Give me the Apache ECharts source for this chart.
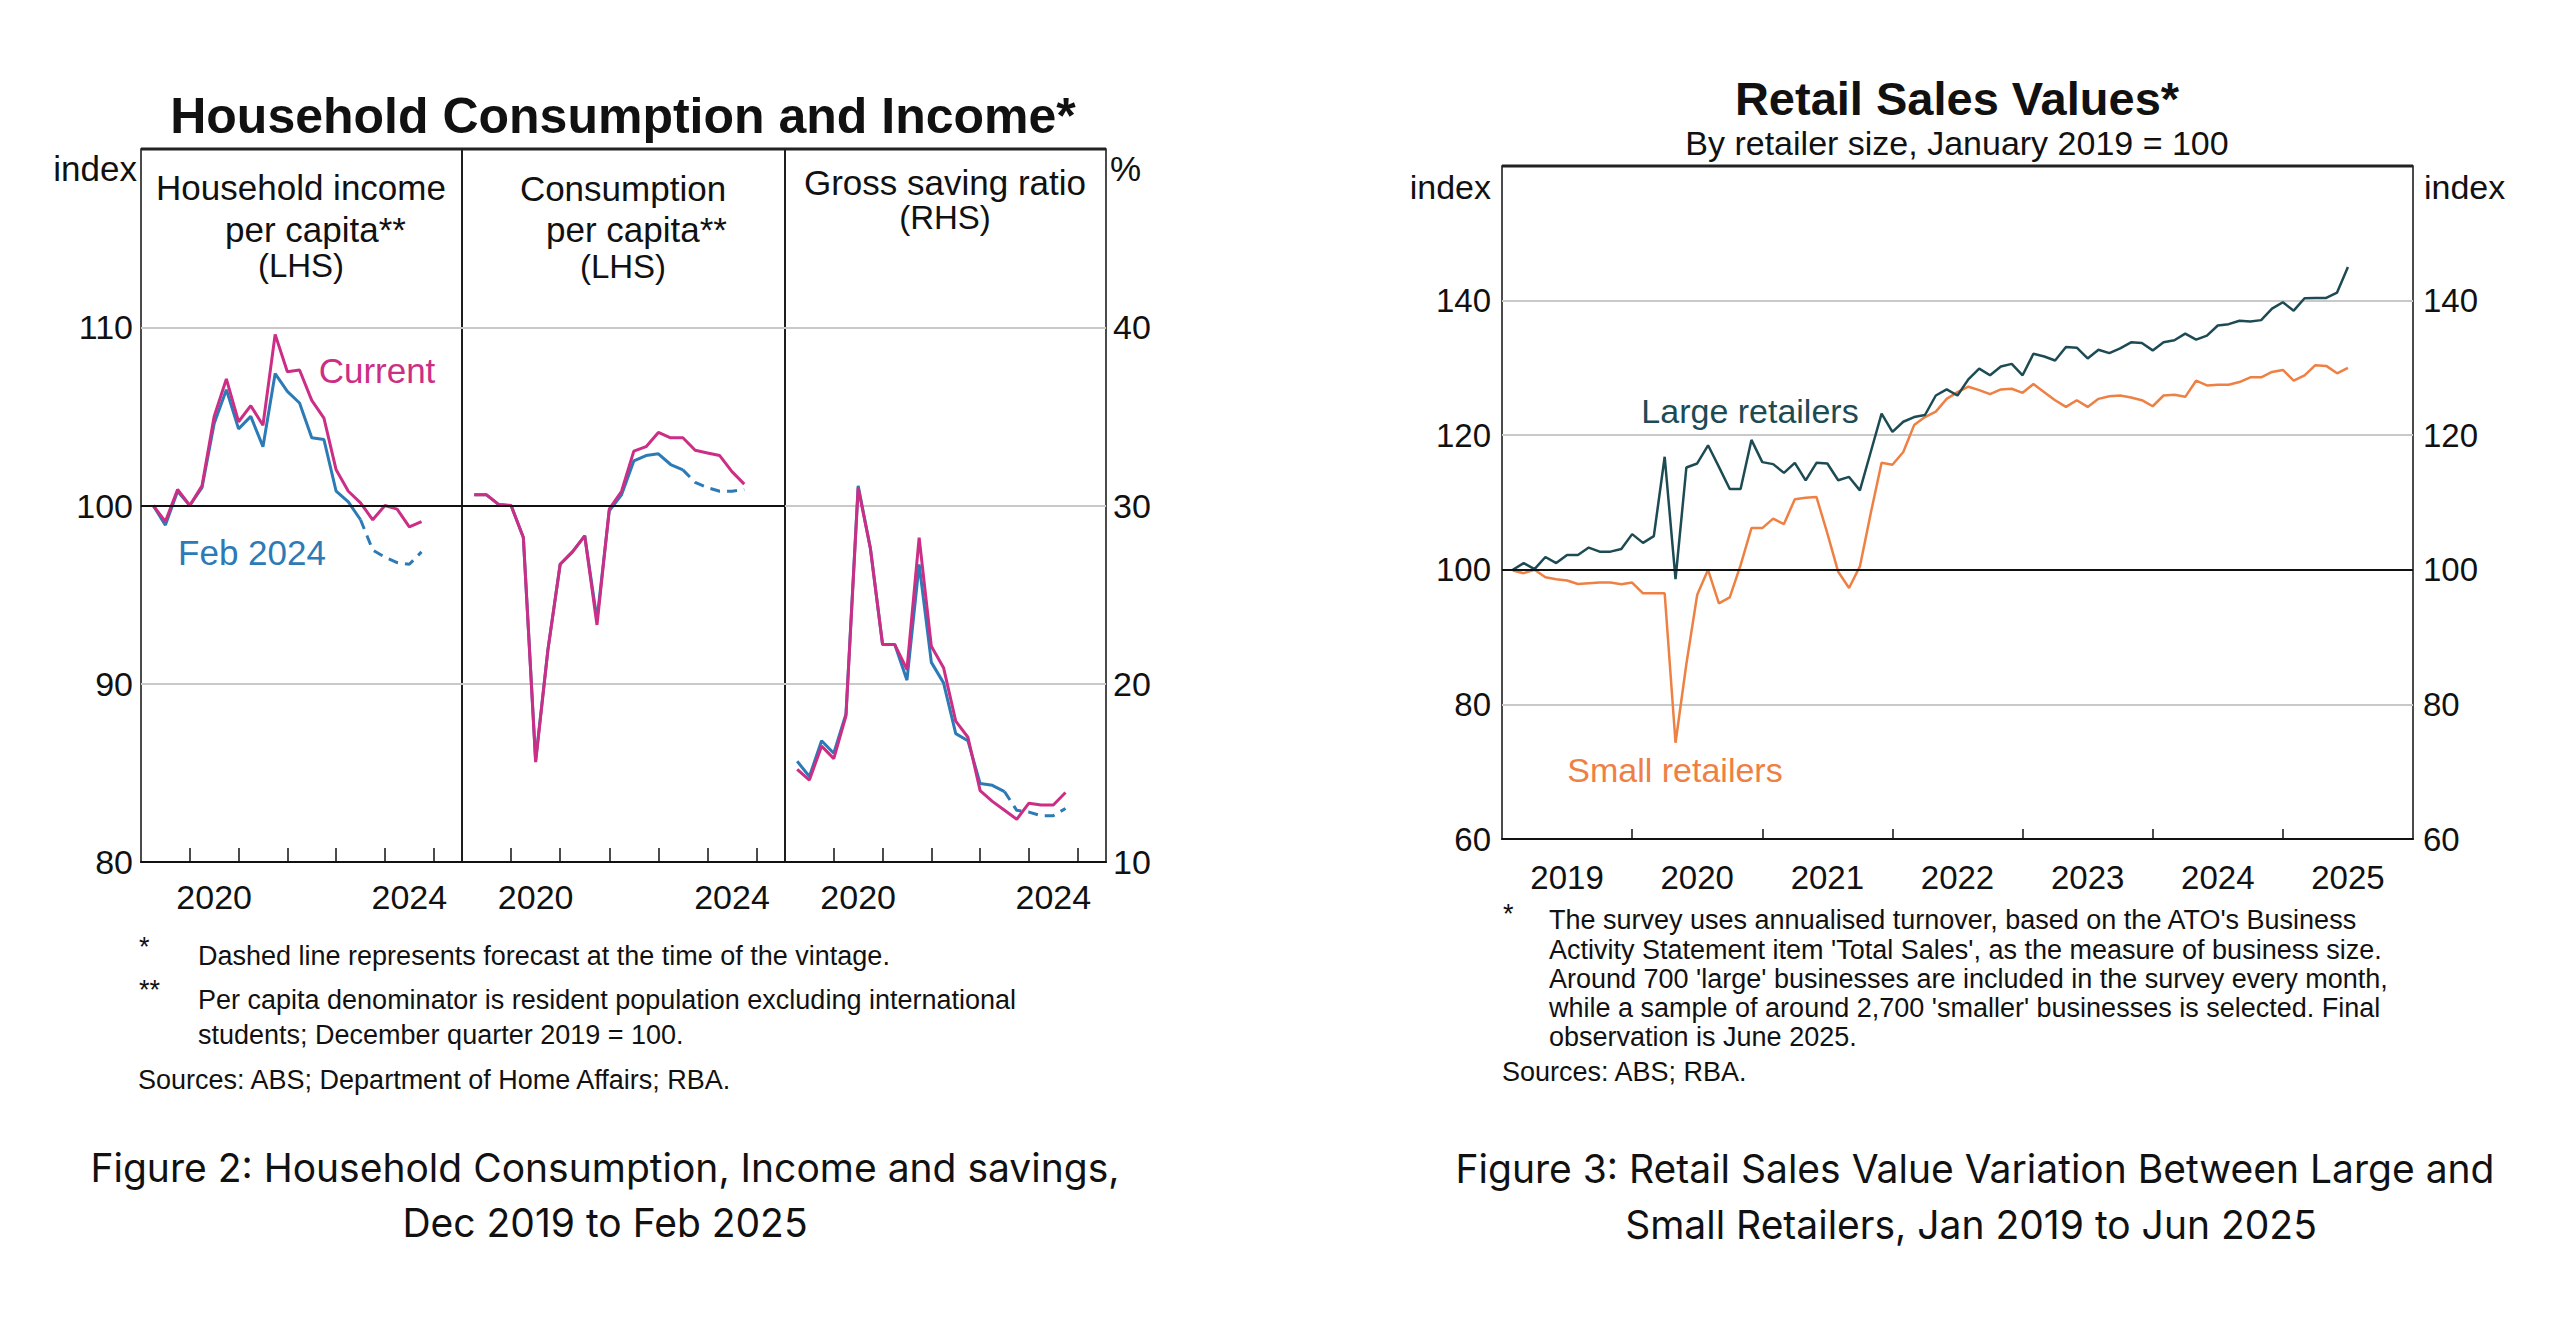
<!DOCTYPE html>
<html><head><meta charset="utf-8">
<script src="https://cdn.jsdelivr.net/npm/echarts@6/dist/echarts.min.js"></script>
<style>html,body{margin:0;padding:0;background:#fff;}#c{width:2560px;height:1324px;}</style>
</head><body><div id="c"></div>
<script>
// ---------- Figure 2 data (quarterly, plotted at quarter end) ----------
const quarters = ['Mar 2019','Jun 2019','Sep 2019','Dec 2019','Mar 2020','Jun 2020','Sep 2020','Dec 2020',
  'Mar 2021','Jun 2021','Sep 2021','Dec 2021','Mar 2022','Jun 2022','Sep 2022','Dec 2022',
  'Mar 2023','Jun 2023','Sep 2023','Dec 2023','Mar 2024','Jun 2024','Sep 2024'];
const incomeCurrent = [100, 99.1, 100.9, 100, 101.1, 105.0, 107.1, 104.7, 105.6, 104.5, 109.6, 107.5,
  107.6, 105.9, 104.9, 102.0, 100.8, 100.15, 99.2, 100.0, 99.8, 98.8, 99.1];
const incomeFeb24 = [100, 98.9, 100.8, 100, 101.0, 104.6, 106.5, 104.3, 105.0, 103.3, 107.4, 106.4,
  105.75, 103.8, 103.7, 100.8, 100.2, 99.2, 97.5, 97.1, 96.8, 96.7, 97.4];
const consCurrent = [100.6, 100.6, 100.05, 100, 98.2, 85.6, 91.9, 96.7, 97.4, 98.3, 93.3, 99.8,
  100.8, 103.05, 103.3, 104.1, 103.8, 103.8, 103.1, 102.95, 102.8, 101.9, 101.2];
const consFeb24 = [100.6, 100.6, 100.05, 100, 98.2, 85.7, 91.9, 96.7, 97.4, 98.3, 93.6, 99.7,
  100.6, 102.5, 102.8, 102.9, 102.3, 102.0, 101.3, 101.0, 100.8, 100.8, 100.9];
const savingCurrent = [15.2, 14.6, 16.5, 15.8, 18.2, 31.0, 27.6, 22.2, 22.2, 20.8, 28.2, 22.1,
  20.9, 17.9, 17.0, 14.0, 13.4, 12.9, 12.4, 13.3, 13.2, 13.2, 13.9];
const savingFeb24 = [15.65, 14.8, 16.8, 16.1, 18.3, 31.1, 27.6, 22.2, 22.2, 20.2, 26.7, 21.2,
  20.05, 17.2, 16.8, 14.4, 14.3, 13.95, 12.9, 12.8, 12.6, 12.6, 13.0];
const forecastFrom = 'Jun 2023';
const fig2YearTicks = [2020, 2021, 2022, 2023, 2024, 2025];
const fig2YearLabels = [2020, 2024];

// ---------- Figure 3 data (monthly, Jan 2019 - Jun 2025) ----------
const firstMonth = 'Jan 2019';
const largeRetailers = [
  100, 101, 100.1, 101.9, 101, 102.2, 102.2, 103.3, 102.7, 102.7, 103.1, 105.3,
  104.0, 105.0, 116.8, 98.6, 115.2, 115.8, 118.5, 115.3, 112.0, 112.0, 119.3, 116.0,
  115.7, 114.4, 115.9, 113.3, 115.9, 115.8, 113.3, 113.8, 111.8, 117.5, 123.2, 120.5,
  122.0, 122.7, 123.0, 125.9, 126.8, 125.9, 128.3, 129.9, 128.9, 130.2, 130.6, 128.9,
  132.1, 131.7, 131.1, 133.1, 133.0, 131.4, 132.7, 132.2, 132.9, 133.8, 133.7, 132.6,
  133.8, 134.1, 135.1, 134.2, 134.8, 136.3, 136.5, 137.0, 136.9, 137.1, 138.8, 139.75,
  138.5, 140.35, 140.4, 140.4, 141.2, 145.0];
const smallRetailers = [
  99.9, 99.5, 100, 98.9, 98.6, 98.4, 97.9, 98.0, 98.1, 98.1, 97.85, 98.1,
  96.5, 96.5, 96.5, 74.3, 86, 96.3, 100, 95, 95.9, 100.7, 106.2, 106.2,
  107.6, 106.8, 110.5, 110.7, 110.8, 105.4, 99.7, 97.3, 100.5, 108.4, 115.9, 115.6,
  117.5, 121.5, 122.7, 123.5, 125.4, 126.4, 127.2, 126.7, 126.1, 126.8, 126.9, 126.3,
  127.6, 126.4, 125.2, 124.2, 125.2, 124.2, 125.4, 125.8, 125.9, 125.6, 125.2, 124.3,
  125.9, 126.0, 125.7, 128.1, 127.4, 127.5, 127.5, 127.9, 128.6, 128.6, 129.4, 129.7,
  128.1, 128.9, 130.4, 130.3, 129.2, 130.0];
const fig3YearTicks = [2020, 2021, 2022, 2023, 2024, 2025];
const fig3YearLabels = [2019, 2020, 2021, 2022, 2023, 2024, 2025];

// ---------- helpers ----------
const MON = ['Jan','Feb','Mar','Apr','May','Jun','Jul','Aug','Sep','Oct','Nov','Dec'];
function toX(label) { const [m, y] = label.split(' '); return +y + (MON.indexOf(m) + 1) / 12; }
const months = (() => { const out = []; let [m, y] = firstMonth.split(' '); let mi = MON.indexOf(m), yy = +y;
  for (let i = 0; i < largeRetailers.length; i++) { out.push(MON[mi] + ' ' + yy); mi++; if (mi === 12) { mi = 0; yy++; } } return out; })();
const pairs = (labels, vals) => vals.map((v, i) => [toX(labels[i]), v]);
const fIdx = quarters.indexOf(forecastFrom);

const F = "'Liberation Sans', Arial, Helvetica, sans-serif";
const CAP = "Inter, 'Liberation Sans', Arial, sans-serif";
const MAG = '#cc2e86', BLU = '#2c7ab6', TEAL = '#1c4b54', ORG = '#ee8044';
const GRIDC = '#c9c9c9', BLK = '#111';

const chart = echarts.init(document.getElementById('c'), null, { renderer: 'svg' });

const leftGrids = [
  { left: 141, top: 149, width: 321, height: 713 },
  { left: 462, top: 149, width: 323, height: 713 },
  { left: 785, top: 149, width: 321, height: 713 }
];
const grids = leftGrids.concat([{ left: 1502, top: 166, width: 911, height: 673 }])
  .map(g => Object.assign({ show: true, borderColor: BLK, borderWidth: 1.5, backgroundColor: 'transparent' }, g));

function fig2X(i) {
  return {
    gridIndex: i, type: 'value', min: 2019, max: 2025.58, interval: 1,
    axisLine: { show: true, onZero: false, lineStyle: { color: BLK, width: 2 } },
    axisTick: { show: true, inside: true, length: 14, lineStyle: { color: BLK, width: 1.5 }, customValues: fig2YearTicks },
    axisLabel: { show: true, customValues: fig2YearLabels.map(y => y + 0.5), formatter: v => String(Math.floor(v)),
      fontSize: 34, color: BLK, fontFamily: F, margin: 18 },
    splitLine: { show: false }
  };
}
const xAxes = [fig2X(0), fig2X(1), fig2X(2), {
  gridIndex: 3, type: 'value', min: 2019, max: 2026, interval: 1,
  axisLine: { show: true, onZero: false, lineStyle: { color: BLK, width: 2 } },
  axisTick: { show: true, inside: true, length: 10, lineStyle: { color: BLK, width: 1.5 }, customValues: fig3YearTicks },
  axisLabel: { show: true, customValues: fig3YearLabels.map(y => y + 0.5), formatter: v => String(Math.floor(v)),
    fontSize: 33, color: BLK, fontFamily: F, margin: 22 },
  splitLine: { show: false }
}];

const yBase = (gi, min, max, interval, pos, showLabel, margin) => ({
  gridIndex: gi, type: 'value', min, max, interval, position: pos,
  axisLine: { show: false }, axisTick: { show: false },
  axisLabel: { show: showLabel, formatter: v => (v === max ? '' : String(v)), fontSize: gi === 3 || gi === 4 ? 33 : 34,
    color: BLK, fontFamily: F, margin },
  splitLine: { show: true, lineStyle: { color: GRIDC, width: 2 } }
});
const yAxes = [
  yBase(0, 80, 120, 10, 'left', true, 8),
  yBase(1, 80, 120, 10, 'left', false, 8),
  yBase(2, 10, 50, 10, 'right', true, 7),
  yBase(3, 60, 160, 20, 'left', true, 11),
  Object.assign(yBase(3, 60, 160, 20, 'right', true, 10), { splitLine: { show: false } })
];

const refLine = v => ({ silent: true, symbol: 'none', label: { show: false },
  lineStyle: { color: BLK, width: 2, type: 'solid' }, data: [{ yAxis: v }] });

function fig2Series(i, cur, feb, withRef) {
  const febPts = pairs(quarters, feb);
  return [
    { type: 'line', xAxisIndex: i, yAxisIndex: i, data: febPts.slice(0, fIdx + 1), showSymbol: false, symbol: 'none',
      lineStyle: { color: BLU, width: 3 }, z: 3, markLine: withRef ? refLine(100) : undefined },
    { type: 'line', xAxisIndex: i, yAxisIndex: i, data: febPts.slice(fIdx), showSymbol: false, symbol: 'none',
      lineStyle: { color: BLU, width: 3, type: [10, 7] }, z: 3 },
    { type: 'line', xAxisIndex: i, yAxisIndex: i, data: pairs(quarters, cur), showSymbol: false, symbol: 'none',
      lineStyle: { color: MAG, width: 3 }, z: 4 }
  ];
}

const series = [].concat(
  fig2Series(0, incomeCurrent, incomeFeb24, true),
  fig2Series(1, consCurrent, consFeb24, true),
  fig2Series(2, savingCurrent, savingFeb24, false),
  [
    { type: 'line', xAxisIndex: 3, yAxisIndex: 3, data: pairs(months, smallRetailers), showSymbol: false, symbol: 'none',
      lineStyle: { color: ORG, width: 2.5 }, z: 3, markLine: refLine(100) },
    { type: 'line', xAxisIndex: 3, yAxisIndex: 3, data: pairs(months, largeRetailers), showSymbol: false, symbol: 'none',
      lineStyle: { color: TEAL, width: 2.5 }, z: 4 }
  ]
);

const T = (text, x, y, opt) => Object.assign({ type: 'text', silent: true, z: 10,
  style: Object.assign({ text, x, y, fill: BLK, font: `34px ${F}`, textAlign: 'left', textVerticalAlign: 'middle' }, opt || {}) });
const topLine = (x1, x2, y) => ({ type: 'line', silent: true, z: 9, shape: { x1, y1: y, x2, y2: y }, style: { stroke: '#222', lineWidth: 3 } });

const graphic = [
  topLine(141, 1106, 149), topLine(1502, 2413, 166),
  // Figure 2
  T('Household Consumption and Income*', 623, 116, { font: `bold 50px ${F}`, textAlign: 'center' }),
  T('index', 137, 168, { font: `35px ${F}`, textAlign: 'right' }),
  T('%', 1110, 168, { font: `35px ${F}` }),
  T('Household income', 301, 187, { font: `35px ${F}`, textAlign: 'center' }),
  T('per capita**', 225, 229, { font: `35px ${F}` }),
  T('(LHS)', 301, 265, { font: `33px ${F}`, textAlign: 'center' }),
  T('Consumption', 623, 188, { font: `35px ${F}`, textAlign: 'center' }),
  T('per capita**', 546, 229, { font: `35px ${F}` }),
  T('(LHS)', 623, 266, { font: `33px ${F}`, textAlign: 'center' }),
  T('Gross saving ratio', 945, 182, { font: `35px ${F}`, textAlign: 'center' }),
  T('(RHS)', 945, 217, { font: `33px ${F}`, textAlign: 'center' }),
  T('Current', 377, 370, { font: `35px ${F}`, textAlign: 'center', fill: MAG }),
  T('Feb 2024', 252, 552, { font: `35px ${F}`, textAlign: 'center', fill: BLU }),
  T('*', 139, 947, { font: `27px ${F}` }),
  T('Dashed line represents forecast at the time of the vintage.', 198, 956, { font: `27px ${F}` }),
  T('**', 139, 990, { font: `27px ${F}` }),
  T('Per capita denominator is resident population excluding international', 198, 1000, { font: `27px ${F}` }),
  T('students; December quarter 2019 = 100.', 198, 1035, { font: `27px ${F}` }),
  T('Sources: ABS; Department of Home Affairs; RBA.', 138, 1080, { font: `27px ${F}` }),
  T('Figure 2: Household Consumption, Income and savings,', 605, 1167, { font: `39px ${CAP}`, textAlign: 'center' }),
  T('Dec 2019 to Feb 2025', 605, 1222, { font: `39px ${CAP}`, textAlign: 'center' }),
  // Figure 3
  T('Retail Sales Values*', 1957, 98, { font: `bold 47px ${F}`, textAlign: 'center' }),
  T('By retailer size, January 2019 = 100', 1957, 143, { font: `34px ${F}`, textAlign: 'center' }),
  T('index', 1491, 187, { font: `34px ${F}`, textAlign: 'right' }),
  T('index', 2424, 187, { font: `34px ${F}` }),
  T('Large retailers', 1750, 411, { font: `34px ${F}`, textAlign: 'center', fill: TEAL }),
  T('Small retailers', 1675, 770, { font: `34px ${F}`, textAlign: 'center', fill: ORG }),
  T('*', 1503, 914, { font: `27px ${F}` }),
  T("The survey uses annualised turnover, based on the ATO's Business", 1549, 920, { font: `27px ${F}` }),
  T("Activity Statement item 'Total Sales', as the measure of business size.", 1549, 950, { font: `27px ${F}` }),
  T("Around 700 'large' businesses are included in the survey every month,", 1549, 979, { font: `27px ${F}` }),
  T("while a sample of around 2,700 'smaller' businesses is selected. Final", 1549, 1008, { font: `27px ${F}` }),
  T('observation is June 2025.', 1549, 1037, { font: `27px ${F}` }),
  T('Sources: ABS; RBA.', 1502, 1072, { font: `27px ${F}` }),
  T('Figure 3: Retail Sales Value Variation Between Large and', 1975, 1168, { font: `39px ${CAP}`, textAlign: 'center' }),
  T('Small Retailers, Jan 2019 to Jun 2025', 1971, 1224, { font: `39px ${CAP}`, textAlign: 'center' })
];

chart.setOption({
  animation: false,
  backgroundColor: '#fff',
  grid: grids,
  xAxis: xAxes,
  yAxis: yAxes,
  series,
  graphic
});
</script>
</body></html>
